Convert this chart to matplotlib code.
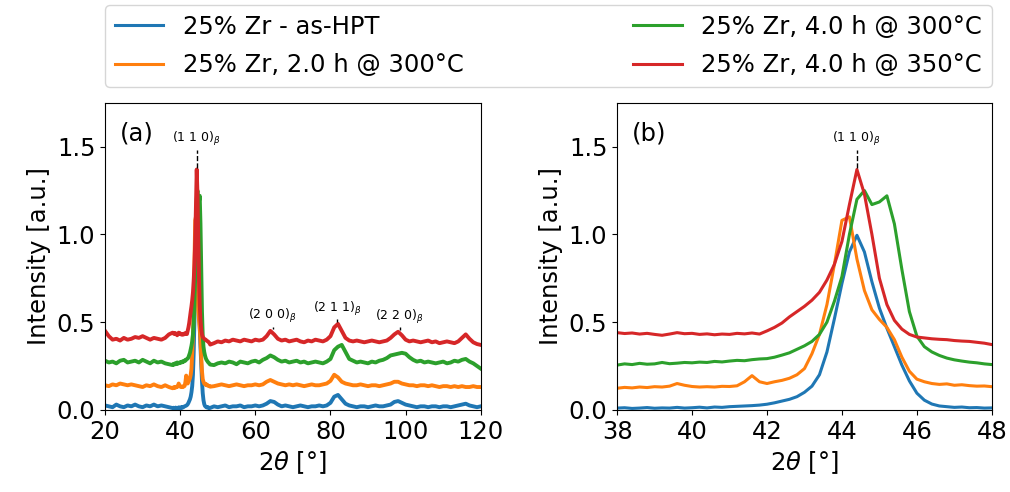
import numpy as np
import matplotlib
matplotlib.use("Agg")
from matplotlib import pyplot as plt

# 2theta grid: 1 deg steps outside the (110) window, 0.2 deg steps inside it
tth = np.concatenate([np.arange(20, 38), np.round(np.arange(38, 48.01, 0.2), 1), np.arange(49, 121)])

# intensities (normalised), one list per sample: 20-37 | 38.0-48.0 | 49-120
hpt = [0.025, 0.02, 0.015, 0.03, 0.02, 0.015, 0.025, 0.02, 0.03, 0.02,
       0.015, 0.025, 0.02, 0.03, 0.02, 0.025, 0.02, 0.015,
       0.010, 0.012, 0.008, 0.010, 0.013, 0.009, 0.011, 0.010, 0.014, 0.010,
       0.012, 0.015, 0.011, 0.016, 0.014, 0.018, 0.020, 0.022, 0.024, 0.027,
       0.032, 0.040, 0.050, 0.060, 0.075, 0.100, 0.135, 0.200, 0.330, 0.520,
       0.720, 0.900, 0.995, 0.900, 0.730, 0.580, 0.465, 0.360, 0.255, 0.165,
       0.095, 0.055, 0.033, 0.022, 0.018, 0.014, 0.016, 0.012, 0.013, 0.010,
       0.011,
       0.02, 0.015, 0.02, 0.025, 0.015, 0.02, 0.02, 0.025, 0.015, 0.02,
       0.02, 0.025, 0.02, 0.025, 0.035, 0.05, 0.045, 0.03, 0.02, 0.025,
       0.02, 0.015, 0.02, 0.025, 0.02, 0.015, 0.02, 0.02, 0.025, 0.02,
       0.025, 0.04, 0.075, 0.085, 0.06, 0.035, 0.025, 0.02, 0.015, 0.02,
       0.02, 0.015, 0.02, 0.025, 0.02, 0.02, 0.025, 0.03, 0.045, 0.05,
       0.04, 0.03, 0.025, 0.02, 0.015, 0.02, 0.02, 0.015, 0.02, 0.02,
       0.015, 0.02, 0.02, 0.015, 0.02, 0.025, 0.03, 0.035, 0.025, 0.02,
       0.015, 0.02]

a300_2h = [0.14, 0.135, 0.145, 0.14, 0.15, 0.145, 0.14, 0.145, 0.14, 0.135,
           0.13, 0.14, 0.135, 0.145, 0.135, 0.13, 0.14, 0.13,
           0.123, 0.128, 0.125, 0.130, 0.127, 0.132, 0.130, 0.135, 0.150, 0.140,
           0.133, 0.130, 0.132, 0.130, 0.134, 0.133, 0.137, 0.160, 0.195, 0.160,
           0.150, 0.160, 0.168, 0.180, 0.200, 0.235, 0.320, 0.430, 0.600, 0.830,
           1.080, 1.100, 0.860, 0.680, 0.570, 0.515, 0.470, 0.400, 0.300, 0.220,
           0.175, 0.160, 0.150, 0.145, 0.148, 0.140, 0.143, 0.138, 0.135, 0.136,
           0.132,
           0.135, 0.14, 0.145, 0.14, 0.135, 0.14, 0.145, 0.14, 0.135, 0.14,
           0.14, 0.145, 0.14, 0.145, 0.16, 0.17, 0.16, 0.15, 0.145, 0.14,
           0.145, 0.14, 0.145, 0.14, 0.135, 0.14, 0.145, 0.14, 0.14, 0.145,
           0.15, 0.165, 0.20, 0.185, 0.16, 0.15, 0.145, 0.14, 0.14, 0.145,
           0.14, 0.135, 0.14, 0.14, 0.135, 0.14, 0.145, 0.15, 0.16, 0.16,
           0.15, 0.145, 0.14, 0.14, 0.135, 0.14, 0.14, 0.135, 0.14, 0.135,
           0.13, 0.135, 0.135, 0.13, 0.135, 0.13, 0.135, 0.13, 0.13, 0.135,
           0.13, 0.13]

a300_4h = [0.28, 0.27, 0.275, 0.265, 0.28, 0.285, 0.27, 0.275, 0.28, 0.27,
           0.285, 0.275, 0.265, 0.28, 0.27, 0.275, 0.265, 0.26,
           0.255, 0.262, 0.258, 0.265, 0.260, 0.262, 0.270, 0.263, 0.266, 0.270,
           0.268, 0.272, 0.270, 0.276, 0.273, 0.278, 0.282, 0.280, 0.286, 0.290,
           0.292, 0.300, 0.312, 0.325, 0.345, 0.365, 0.390, 0.430, 0.500, 0.620,
           0.760, 1.000, 1.200, 1.250, 1.170, 1.185, 1.220, 1.060, 0.800, 0.560,
           0.420, 0.360, 0.330, 0.310, 0.295, 0.285, 0.278, 0.272, 0.268, 0.262,
           0.258,
           0.255, 0.265, 0.27, 0.265, 0.275, 0.27, 0.26, 0.275, 0.27, 0.265,
           0.275, 0.28, 0.27, 0.285, 0.295, 0.31, 0.30, 0.285, 0.275, 0.28,
           0.27, 0.275, 0.28, 0.27, 0.275, 0.265, 0.27, 0.275, 0.27, 0.265,
           0.275, 0.29, 0.34, 0.36, 0.37, 0.33, 0.29, 0.28, 0.27, 0.275,
           0.27, 0.265, 0.275, 0.27, 0.28, 0.285, 0.295, 0.31, 0.315, 0.32,
           0.325, 0.32, 0.30, 0.285, 0.275, 0.28, 0.27, 0.275, 0.27, 0.265,
           0.27, 0.275, 0.265, 0.27, 0.28, 0.275, 0.285, 0.29, 0.275, 0.265,
           0.25, 0.235]

a350_4h = [0.45, 0.42, 0.40, 0.405, 0.395, 0.41, 0.40, 0.405, 0.415, 0.41,
           0.42, 0.41, 0.40, 0.41, 0.405, 0.40, 0.41, 0.43,
           0.440, 0.435, 0.438, 0.432, 0.436, 0.430, 0.425, 0.432, 0.440, 0.434,
           0.436, 0.430, 0.433, 0.428, 0.432, 0.430, 0.436, 0.433, 0.438, 0.432,
           0.450, 0.470, 0.495, 0.530, 0.560, 0.590, 0.625, 0.670, 0.740, 0.830,
           0.960, 1.170, 1.370, 1.230, 1.000, 0.750, 0.600, 0.510, 0.460, 0.430,
           0.415, 0.410, 0.405, 0.402, 0.400, 0.395, 0.392, 0.390, 0.385, 0.380,
           0.372,
           0.38, 0.39, 0.385, 0.395, 0.39, 0.40, 0.395, 0.39, 0.40, 0.395,
           0.39, 0.40, 0.395, 0.40, 0.42, 0.45, 0.43, 0.405, 0.395, 0.40,
           0.39, 0.395, 0.40, 0.39, 0.385, 0.395, 0.39, 0.40, 0.395, 0.39,
           0.40, 0.42, 0.47, 0.49, 0.45, 0.41, 0.395, 0.39, 0.395, 0.39,
           0.385, 0.39, 0.395, 0.39, 0.385, 0.39, 0.395, 0.41, 0.43, 0.445,
           0.425, 0.40, 0.39, 0.395, 0.39, 0.385, 0.39, 0.395, 0.385, 0.39,
           0.38, 0.385, 0.39, 0.385, 0.38, 0.39, 0.41, 0.43, 0.405, 0.385,
           0.375, 0.37]

series = [hpt, a300_2h, a300_4h, a350_4h]
names = ["25% Zr - as-HPT", "25% Zr, 2.0 h @ 300°C",
         "25% Zr, 4.0 h @ 300°C", "25% Zr, 4.0 h @ 350°C"]
colors = ["tab:blue", "tab:orange", "tab:green", "tab:red"]

# bcc reflections
peaks = [44.4, 64.6, 81.8, 98.4]
peak_names = [r"(1 1 0)$_\beta$", r"(2 0 0)$_\beta$", r"(2 1 1)$_\beta$", r"(2 2 0)$_\beta$"]
gaps = [0.12, 0.035, 0.035, 0.035]

plt.rcParams["font.size"] = 17.5

fig = plt.figure(figsize=(10.1, 4.92), dpi=100)
ax1 = fig.add_axes([0.104, 0.167, 0.372, 0.624])
ax2 = fig.add_axes([0.611, 0.167, 0.371, 0.624])

def mark_peak(ax, pos, name, gap):
    sel = np.abs(tth - pos) <= 1.0
    top = max(np.array(s)[sel].max() for s in series)
    ax.plot([pos, pos], [top + 0.01, top + gap - 0.01], "k--", lw=1)
    ax.text(pos, top + gap, name, ha="center", va="bottom", fontsize=9)

for ax, lw in ((ax1, 2.8), (ax2, 2.2)):
    for s, n, c in zip(series, names, colors):
        ax.plot(tth, s, color=c, lw=lw, label=n)
    ax.set_ylim(0, 1.75)
    ax.set_yticks([0, 0.5, 1.0, 1.5])
    ax.set_xlabel(r"2$\theta$ [°]")
    ax.set_ylabel("Intensity [a.u.]")

ax1.set_xlim(20, 120)
ax1.set_xticks([20, 40, 60, 80, 100, 120])
for p, n, g in zip(peaks, peak_names, gaps):
    mark_peak(ax1, p, n, g)

ax2.set_xlim(38, 48)
ax2.set_xticks([38, 40, 42, 44, 46, 48])
mark_peak(ax2, peaks[0], peak_names[0], gaps[0])

ax1.text(0.04, 0.94, "(a)", transform=ax1.transAxes, va="top")
ax2.text(0.04, 0.94, "(b)", transform=ax2.transAxes, va="top")

handles, labels = ax2.get_legend_handles_labels()
fig.legend(handles, labels, loc="upper left", ncol=2, mode="expand",
           bbox_to_anchor=(0.104, 0.5, 0.878, 0.49), borderaxespad=0,
           labelspacing=0.6)

fig.savefig("out.png", dpi=100)
